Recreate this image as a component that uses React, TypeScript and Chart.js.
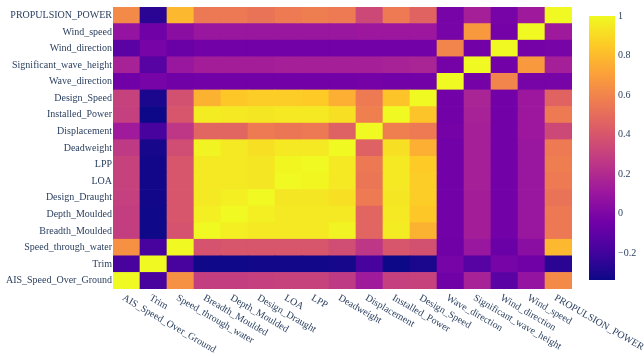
import React, { useEffect, useRef } from "react";
import { Chart, registerables } from "chart.js";

Chart.register(...registerables);

// Variables in matrix order (row 0 is drawn at the bottom, column 0 at the left)
const variables = [
  "AIS_Speed_Over_Ground",
  "Trim",
  "Speed_through_water",
  "Breadth_Moulded",
  "Depth_Moulded",
  "Design_Draught",
  "LOA",
  "LPP",
  "Deadweight",
  "Displacement",
  "Installed_Power",
  "Design_Speed",
  "Wave_direction",
  "Significant_wave_height",
  "Wind_direction",
  "Wind_speed",
  "PROPULSION_POWER",
];

// Pearson correlation, one row per variable
const corrAIS = [1, -0.18, 0.65, 0.29, 0.29, 0.3, 0.31, 0.31, 0.27, 0.13, 0.3, 0.31, -0.05, 0.16, -0.12, 0.08, 0.62];
const corrTrim = [-0.18, 1, -0.18, -0.33, -0.33, -0.32, -0.32, -0.32, -0.31, -0.18, -0.335, -0.3, -0.02, -0.13, -0.02, -0.05, -0.26];
const corrSTW = [0.65, -0.18, 1, 0.39, 0.4, 0.4, 0.4, 0.4, 0.36, 0.26, 0.4, 0.38, -0.05, 0.1, -0.07, 0.05, 0.79];
const corrBreadth = [0.29, -0.33, 0.39, 1, 0.97, 0.95, 0.95, 0.95, 0.98, 0.47, 0.96, 0.77, -0.04, 0.14, -0.04, 0.1, 0.55];
const corrDepth = [0.29, -0.33, 0.4, 0.97, 1, 0.97, 0.95, 0.95, 0.95, 0.47, 0.95, 0.84, -0.04, 0.14, -0.04, 0.1, 0.55];
const corrDraught = [0.3, -0.32, 0.4, 0.95, 0.97, 1, 0.94, 0.94, 0.92, 0.56, 0.94, 0.86, -0.04, 0.14, -0.04, 0.1, 0.53];
const corrLOA = [0.31, -0.32, 0.4, 0.95, 0.95, 0.94, 1, 0.99, 0.95, 0.54, 0.95, 0.86, -0.04, 0.15, -0.04, 0.1, 0.56];
const corrLPP = [0.31, -0.32, 0.4, 0.95, 0.95, 0.94, 0.99, 1, 0.95, 0.55, 0.95, 0.85, -0.04, 0.15, -0.04, 0.1, 0.57];
const corrDWT = [0.27, -0.31, 0.36, 0.98, 0.95, 0.92, 0.95, 0.95, 1, 0.45, 0.92, 0.76, -0.04, 0.15, -0.04, 0.1, 0.56];
const corrDisp = [0.13, -0.18, 0.26, 0.47, 0.47, 0.56, 0.54, 0.55, 0.45, 1, 0.58, 0.56, -0.03, 0.15, -0.04, 0.11, 0.34];
const corrPower = [0.3, -0.335, 0.4, 0.96, 0.95, 0.94, 0.95, 0.95, 0.92, 0.58, 1, 0.83, -0.04, 0.16, -0.04, 0.11, 0.56];
const corrSpeed = [0.31, -0.3, 0.38, 0.77, 0.84, 0.86, 0.86, 0.85, 0.76, 0.56, 0.83, 1, -0.04, 0.17, -0.04, 0.11, 0.46];
const corrWaveDir = [-0.05, -0.02, -0.05, -0.04, -0.04, -0.04, -0.04, -0.04, -0.04, -0.03, -0.04, -0.04, 1, -0.03, 0.6, -0.02, -0.02];
const corrWaveHeight = [0.16, -0.13, 0.1, 0.14, 0.14, 0.14, 0.15, 0.15, 0.15, 0.15, 0.16, 0.17, -0.03, 1, -0.04, 0.68, 0.15];
const corrWindDir = [-0.12, -0.02, -0.07, -0.04, -0.04, -0.04, -0.04, -0.04, -0.04, -0.04, -0.04, -0.04, 0.6, -0.04, 1, -0.03, -0.02];
const corrWindSpeed = [0.08, -0.05, 0.05, 0.1, 0.1, 0.1, 0.1, 0.1, 0.1, 0.11, 0.11, 0.11, -0.02, 0.68, -0.03, 1, 0.12];
const corrPropulsion = [0.62, -0.26, 0.79, 0.55, 0.55, 0.53, 0.56, 0.57, 0.56, 0.34, 0.56, 0.46, -0.02, 0.15, -0.02, 0.12, 1];

const corrRows = [
  corrAIS, corrTrim, corrSTW, corrBreadth, corrDepth, corrDraught, corrLOA, corrLPP,
  corrDWT, corrDisp, corrPower, corrSpeed, corrWaveDir, corrWaveHeight, corrWindDir,
  corrWindSpeed, corrPropulsion,
];

const colorbarTicks = [-0.2, 0, 0.2, 0.4, 0.6, 0.8, 1];

const plasmaStops = [
  "#0d0887", "#46039f", "#7201a8", "#9c179e", "#bd3786",
  "#d8576b", "#ed7953", "#fb9f3a", "#fdca26", "#f0f921",
];

const FONT = "10px 'Liberation Serif', 'Times New Roman', serif";
const TEXT_COLOR = "#2a3f5f";

const zMin = Math.min(...corrRows.flat());
const zMax = Math.max(...corrRows.flat());

function hexToRgb(h: string): number[] {
  return [1, 3, 5].map((i) => parseInt(h.slice(i, i + 2), 16));
}

function plasma(t: number): string {
  const c = Math.max(0, Math.min(1, t)) * (plasmaStops.length - 1);
  const i = Math.min(Math.floor(c), plasmaStops.length - 2);
  const f = c - i;
  const a = hexToRgb(plasmaStops[i]);
  const b = hexToRgb(plasmaStops[i + 1]);
  const m = a.map((v, k) => Math.round(v + (b[k] - v) * f));
  return `rgb(${m[0]},${m[1]},${m[2]})`;
}

const colorOf = (v: number) => plasma((v - zMin) / (zMax - zMin));

// Rotated column labels and the colour bar
const heatmapExtras = {
  id: "heatmapExtras",
  afterDraw(chart: any) {
    const { ctx, chartArea: area } = chart;
    const xs = chart.scales.x;
    ctx.save();
    ctx.font = FONT;
    ctx.fillStyle = TEXT_COLOR;
    ctx.textAlign = "left";
    ctx.textBaseline = "top";
    variables.forEach((name, i) => {
      const px = xs.getPixelForValue(i);
      ctx.save();
      ctx.translate(px - 1, area.bottom + 4);
      ctx.rotate(Math.PI / 6);
      ctx.fillText(name, 0, 0);
      ctx.restore();
    });

    const cbLeft = area.right + 17;
    const cbWidth = 26;
    const cbTop = area.top + 9;
    const cbBottom = area.bottom - 9;
    const grad = ctx.createLinearGradient(0, cbBottom, 0, cbTop);
    plasmaStops.forEach((c, i) => grad.addColorStop(i / (plasmaStops.length - 1), c));
    ctx.fillStyle = grad;
    ctx.fillRect(cbLeft, cbTop, cbWidth, cbBottom - cbTop);

    ctx.fillStyle = TEXT_COLOR;
    ctx.textBaseline = "middle";
    colorbarTicks.forEach((v) => {
      const y = cbBottom - ((v - zMin) / (zMax - zMin)) * (cbBottom - cbTop);
      const label = v < 0 ? "\u2212" + String(Math.abs(v)) : String(v);
      ctx.fillText(label, cbLeft + cbWidth + 3, y);
    });
    ctx.restore();
  },
};

export default function App() {
  const canvasRef = useRef<HTMLCanvasElement | null>(null);

  useEffect(() => {
    if (!canvasRef.current) return;
    const chart = new Chart(canvasRef.current, {
      type: "bar",
      data: {
        labels: variables,
        datasets: variables.map((name, r) => ({
          label: name,
          data: variables.map(() => 1),
          backgroundColor: corrRows[r].map(colorOf),
          borderWidth: 0,
          barPercentage: 1,
          categoryPercentage: 1,
          stack: "corr",
        })),
      },
      options: {
        animation: false,
        responsive: false,
        layout: { padding: { left: 0, right: 72, top: 4, bottom: 0 } },
        plugins: { legend: { display: false }, tooltip: { enabled: false } },
        scales: {
          x: {
            type: "category",
            stacked: true,
            offset: true,
            grid: { display: false, drawTicks: false },
            border: { display: false },
            ticks: { display: false },
            afterFit: (s: any) => {
              s.height = 67;
            },
          },
          y: {
            type: "linear",
            stacked: true,
            min: 0,
            max: variables.length,
            grid: { display: false, drawTicks: false },
            border: { display: false },
            afterBuildTicks: (axis: any) => {
              axis.ticks = variables.map((_, i) => ({ value: i + 0.5 }));
            },
            afterFit: (s: any) => {
              s.width = 113;
            },
            ticks: {
              autoSkip: false,
              padding: 1,
              color: TEXT_COLOR,
              font: { family: "'Liberation Serif', 'Times New Roman', serif", size: 10 },
              callback: (_v: any, i: number) => variables[i],
            },
          },
        },
      } as any,
      plugins: [heatmapExtras],
    });
    return () => chart.destroy();
  }, []);

  return (
    <div style={{ position: "fixed", left: 0, top: 0, width: 644, height: 356, background: "#fff" }}>
      <canvas ref={canvasRef} width={644} height={356} style={{ width: 644, height: 356, display: "block" }} />
    </div>
  );
}
